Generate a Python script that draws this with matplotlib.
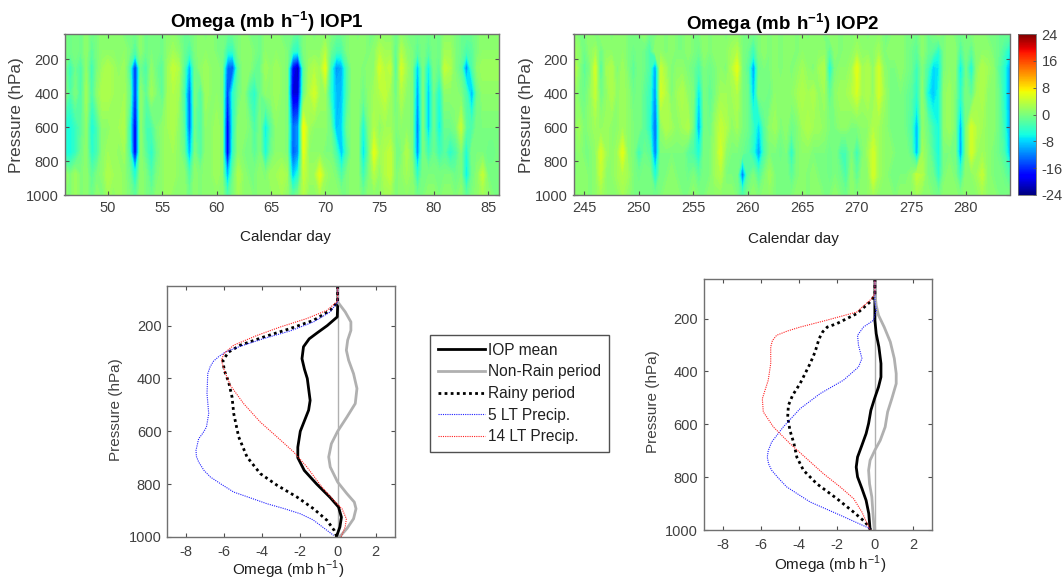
import matplotlib

matplotlib.use("Agg")
import matplotlib.pyplot as plt
import numpy as np

plt.rcParams["font.family"] = ["Liberation Sans", "DejaVu Sans"]
plt.rcParams["mathtext.fontset"] = "custom"
plt.rcParams["mathtext.rm"] = "Liberation Sans"
plt.rcParams["mathtext.bf"] = "Liberation Sans:bold"
plt.rcParams["axes.unicode_minus"] = False

# pressure rows of the two heatmaps, one value every half day
levels = [50, 150, 250, 400, 600, 750, 880, 1000]
days1 = [46 + 0.5 * i for i in range(81)]
days2 = [244 + 0.5 * i for i in range(81)]

iop1p50 = [0,-1,0,-1,1,-1,0,1,0,1, 1,0,0,-1,1,-1,0,0,-1,1, 1,0,-1,-1,0,1,0,1,0,0, -1,-1,0,1,0,0,-1,1,0,1,
           0,0,-1,-2,0,1,0,1,1,0, -1,-1,0,1,0,1,0,0,1,1, 1,-1,1,0,0,-1,0,-1,0,-1, 1,1,0,-1,-1,-1,0,1,1,1, 1]
iop1p150 = [0,-1,0,-1,1,-2,0,1,1,1, 1,1,0,-3,1,-1,0,0,-1,1, 2,1,-1,-3,0,1,1,1,0,0, -4,-4,0,1,1,0,-1,1,1,1,
            1,0,-4,-5,0,1,1,1,3,-1, -3,-3,0,1,1,1,0,1,3,2, 2,-2,3,1,0,-2,0,-2,0,-1, 2,2,0,-1,-3,-2,0,1,1,1, 1]
iop1p250 = [0,-4,-1,-3,1,-4,0,2,3,2, 1,2,-3,-17,-1,-3,1,-1,-2,2, 4,3,-2,-10,-1,1,2,1,1,0, -13,-14,-2,1,1,-1,-1,2,1,2,
            1,0,-18,-22,-2,2,3,2,6,-4, -11,-10,-3,1,1,0,1,1,5,3, 4,-3,5,2,0,-9,0,-7,0,-2, 4,3,0,-2,-12,-3,1,2,2,2, 2]
iop1p400 = [1,-3,0,-3,2,-3,1,3,3,2, 2,2,-1,-17,1,-2,2,0,-2,2, 3,2,-3,-14,0,-3,2,1,1,0, -16,-5,-1,1,-3,-5,-1,1,1,2,
            1,0,-20,-20,-1,3,5,2,2,-5, -9,-9,-3,1,1,-1,1,2,3,4, 2,-1,3,1,0,-11,0,-9,-1,-6, 1,1,1,0,-3,-10,-1,1,1,1, 1]
iop1p600 = [-5,-6,-4,-2,1,-6,-3,1,1,2, 2,3,-4,-20,1,-3,-3,0,1,2, 3,1,-2,-14,-1,-3,1,1,2,1, -20,-5,1,1,0,-3,0,-7,-2,1,
            1,0,-13,-11,7,2,1,1,1,-1, -9,-8,-1,1,1,-6,0,3,1,2, 2,0,1,1,0,-13,0,-9,-1,-7, -1,-1,0,4,-2,-3,0,0,0,0, 0]
iop1p750 = [-5,-6,-4,-1,1,-5,-3,1,2,2, 1,2,-3,-20,1,-2,-5,-1,1,2, 2,1,-1,-10,0,-3,1,1,2,1, -20,-4,1,0,0,-2,0,-6,-1,1,
            1,0,-14,-11,6,1,1,1,0,0, -3,-9,-3,1,1,-8,-1,6,2,3, 4,0,0,3,0,-12,0,-4,-1,-4, -2,-5,-3,0,-6,0,0,0,-1,-1, 0]
iop1p880 = [2,0,2,0,1,-2,0,1,3,2, 2,1,-1,-6,1,0,-3,0,1,2, 2,1,1,-3,1,0,1,1,2,1, -10,-1,3,1,0,0,1,0,2,2,
            3,2,-9,-5,4,2,2,6,2,1, 0,-3,0,1,1,-4,0,3,1,3, 4,0,1,2,1,-5,0,0,0,0, 0,0,-1,0,-7,-1,1,4,0,0, 0]
iop1p1000 = [1,0,2,0,1,-1,1,0,2,1, 2,1,0,-2,1,0,-1,1,1,2, 1,1,1,-1,1,0,1,1,1,1, -3,0,2,1,1,0,1,1,1,2,
             2,1,-2,0,3,1,1,2,1,1, 1,0,0,1,1,-1,1,1,1,2, 2,0,1,1,1,-1,0,1,1,0, 1,1,0,1,-2,0,1,2,1,0, 0]

iop2p50 = [1,0,0,1,0,1,1,0,1,1, 0,0,0,1,-1,0,1,0,1,0, 0,1,0,0,1,0,1,1,0,1, 1,0,0,-1,0,1,0,1,0,1,
           1,0,1,0,1,1,0,1,1,0, 1,0,1,1,0,1,1,0,0,1, 1,0,0,-1,1,-1,0,1,0,1, 0,-1,0,0,1,1,0,0,-1,-1, -1]
iop2p150 = [2,1,-1,1,2,-1,1,1,1,1, 0,-1,0,-1,-3,1,1,0,1,0, 0,1,0,-1,1,0,1,1,1,2, 3,0,-1,-4,0,1,0,1,0,1,
            1,0,1,1,1,1,1,-2,1,0, 1,1,2,1,1,1,2,0,1,1, 1,0,-1,-2,1,-1,-2,-5,0,1, 1,-3,0,-2,1,1,1,0,-1,-3, -6]
iop2p250 = [4,1,-2,0,5,-3,2,3,0,2, 0,-2,0,-1,-3,-11,4,2,0,1, 1,0,-1,-3,0,-1,0,1,0,3, 6,0,-2,-11,-1,0,0,1,0,1,
            0,1,2,1,0,2,3,-6,0,1, 1,2,6,2,3,1,5,1,0,0, 1,0,-1,-4,0,-3,-8,-7,0,1, 1,-7,-1,-6,1,3,2,1,-2,-5, -10]
iop2p400 = [2,0,-1,1,4,-1,1,3,1,2, 1,-1,0,-2,-4,-12,5,3,0,2, 3,1,0,-8,0,-2,0,2,2,2, 3,0,-1,-9,0,0,-1,1,1,1,
            1,2,3,2,3,1,2,-2,1,2, 2,3,5,2,3,1,5,2,0,0, 0,-1,-2,-5,1,-6,-9,-6,1,2, 0,-5,0,-2,2,3,1,1,-1,-5, -10]
iop2p600 = [1,2,0,1,2,1,2,1,1,2, 1,0,0,-2,-5,-14,1,3,2,1, 2,3,-1,-11,0,-1,2,4,3,1, 2,0,-1,-4,-8,-2,1,2,0,1,
            -1,0,2,3,2,2,1,0,0,1, 1,0,0,1,1,3,2,1,0,0, 0,-1,-3,-10,1,-1,-4,-6,1,2, 0,-10,0,5,3,2,1,1,-1,-4, -10]
iop2p750 = [0,1,0,0,1,5,2,1,2,6, 1,0,-4,-1,-2,-13,0,0,0,0, 0,-2,-3,-6,0,0,2,5,1,0, 0,-1,-2,-5,-11,-3,0,0,-1,0,
            -5,0,1,1,0,0,0,-1,0,-3, -3,0,-4,0,2,5,2,1,1,0, 0,0,-2,-10,2,0,-3,-6,0,0, 0,-11,0,5,2,2,1,0,-1,-3, -9]
iop2p880 = [0,1,1,0,1,4,1,1,2,3, 2,0,-1,0,0,-6,0,0,1,0, 0,-1,0,-2,0,0,2,3,0,0, 0,-13,-2,0,-3,0,2,0,0,0,
            -2,0,1,0,1,0,0,-1,0,-1, -3,1,-2,1,1,5,2,1,0,0, 0,0,1,4,3,0,-1,-5,0,1, 0,-4,1,1,2,4,1,0,0,-1, -3]
iop2p1000 = [1,1,1,0,1,2,1,1,1,2, 1,0,0,0,0,-1,0,1,1,1, 0,0,1,0,0,1,1,1,1,1, 0,-3,0,1,0,1,1,0,0,0,
             0,1,1,0,1,1,0,0,1,0, -1,1,0,1,1,2,1,1,1,0, 1,1,1,2,1,1,0,-1,1,1, 1,0,1,1,1,2,1,1,0,0, 0]

# IOP1 profiles (omega, pressure)
mean1X = [0, 0, -0.02, -0.55, -1.09, -1.5, -1.8, -1.88, -1.75, -1.6, -1.45, -1.53, -1.75, -1.97, -2.1, -2.1, -1.76, -1.1, -0.4, 0.05, 0.2, 0.12, -0.07]
mean1P = [50, 130, 167, 200, 228, 250, 280, 325, 365, 400, 483, 520, 560, 600, 660, 700, 748, 800, 850, 887, 925, 962, 1000]
dry1X = [0, 0, 0.4, 0.7, 0.7, 0.53, 0.46, 0.58, 0.84, 1.02, 0.93, 0.49, 0, -0.33, -0.47, -0.39, 0, 0.49, 0.88, 0.97, 0.84, 0.49, 0.1]
dry1P = [50, 110, 148, 186, 218, 255, 293, 331, 382, 438, 495, 546, 600, 647, 697, 735, 792, 836, 868, 893, 931, 968, 1000]
rain1X = [0, 0, -0.39, -1.27, -2.5, -3.9, -5.13, -5.75, -6.05, -5.98, -5.75, -5.57, -5.48, -5.22, -4.78, -4.08, -3.2, -2.14, -1.27, -0.56, -0.18, -0.04]
rain1P = [50, 110, 142, 180, 211, 243, 274, 300, 331, 369, 413, 470, 533, 621, 697, 760, 804, 849, 893, 937, 975, 1000]
morning1X = [0, 0, -0.39, -1.27, -2.5, -3.9, -5.13, -5.92, -6.25, -6.54, -6.72, -6.85, -6.89, -6.8, -6.92, -7.1, -7.33, -7.47, -7.45, -7.33, -7.05, -6.71, -6.1, -5.48, -4.6, -3.73, -2.8, -1.97, -1.3, -0.91, -0.21]
morning1P = [50, 110, 148, 186, 220, 249, 278, 300, 316, 334, 355, 382, 457, 533, 584, 606, 628, 672, 695, 716, 748, 773, 802, 830, 852, 874, 893, 912, 935, 956, 994]
noon1X = [0, 0, -0.56, -1.62, -3.02, -4.25, -5.48, -6.0, -6.13, -5.98, -5.66, -4.96, -4.08, -3.2, -2.32, -1.62, -0.83, -0.21, 0.23, 0.46, 0.4, 0.18]
noon1P = [50, 107, 142, 173, 205, 237, 274, 306, 331, 369, 426, 495, 565, 621, 678, 735, 811, 861, 893, 931, 962, 1000]

# IOP2 profiles
mean2X = [0, 0, 0, 0.07, 0.21, 0.32, 0.32, 0.19, -0.02, -0.21, -0.33, -0.46, -0.68, -0.91, -0.98, -0.91, -0.68, -0.46, -0.32, -0.25]
mean2P = [50, 105, 206, 257, 307, 370, 421, 459, 503, 547, 597, 635, 679, 724, 762, 799, 843, 888, 938, 1000]
dry2X = [0, 0, 0.07, 0.19, 0.49, 0.81, 1.02, 1.12, 1.12, 0.89, 0.67, 0.54, 0.28, 0, -0.25, -0.33, -0.28, -0.16, -0.1, -0.03]
dry2P = [50, 105, 150, 187, 232, 288, 351, 408, 446, 503, 553, 610, 661, 698, 736, 774, 825, 875, 938, 1000]
rain2X = [0, 0, -0.16, -0.95, -2.0, -2.5, -2.74, -2.93, -3.14, -3.4, -3.93, -4.32, -4.54, -4.58, -4.46, -4.25, -4.1, -3.75, -3.05, -2.0, -1.12, -0.51, -0.21]
rain2P = [50, 105, 131, 181, 219, 232, 250, 276, 326, 370, 446, 490, 528, 572, 623, 673, 724, 774, 825, 881, 932, 970, 1000]
morning2X = [0, 0, 0.07, -0.07, -0.6, -0.91, -0.86, -0.68, -0.86, -1.65, -2.88, -3.93, -4.81, -5.42, -5.6, -5.65, -5.58, -5.42, -5.05, -4.63, -3.4, -1.82, -0.25]
morning2P = [50, 131, 168, 206, 232, 263, 301, 351, 383, 433, 484, 541, 610, 667, 700, 724, 750, 774, 805, 837, 894, 944, 995]
noon2X = [0, 0, -0.16, -0.95, -2.53, -3.93, -4.6, -5.16, -5.38, -5.47, -5.47, -5.6, -5.91, -5.86, -5.33, -4.46, -3.58, -2.7, -1.82, -1.12, -0.68, -0.25]
noon2P = [50, 105, 124, 175, 206, 232, 247, 263, 283, 307, 370, 433, 503, 553, 610, 673, 730, 787, 837, 881, 932, 1000]

cLevels = [-24, -16, -8, 0, 8, 16, 24]
textColor = "#404040"
edgeColor = "#707070"

FIG_W, FIG_H = 1062, 581


def addAxes(fig, left, top, right, bottom):
    return fig.add_axes([left / FIG_W, 1 - bottom / FIG_H, (right - left) / FIG_W, (bottom - top) / FIG_H])


def styleAxes(ax, xpad=4):
    for spine in ax.spines.values():
        spine.set_color(edgeColor)
        spine.set_linewidth(1.0)
    ax.tick_params(direction="in", length=3, width=0.8, color="#505050", top=True, right=True, labelsize=10.5, labelcolor=textColor, pad=4)
    ax.tick_params(axis="x", pad=xpad)


def heatmap(fig, rect, days, rows, xticks):
    ax = addAxes(fig, *rect)
    grid = np.array(rows)
    ax.contourf(days, levels, grid, levels=np.linspace(-24, 24, 97), cmap="jet", extend="both")
    ax.set_xlim(days[0], days[-1])
    ax.set_ylim(1000, 50)
    ax.set_xticks(xticks)
    ax.set_yticks([200, 400, 600, 800, 1000])
    styleAxes(ax)
    return ax


def profiles(fig, rect, curves):
    ax = addAxes(fig, *rect)
    ax.axvline(0, color="#b0b0b0", lw=1.0)
    morningX, morningP, noonX, noonP, dryX, dryP, rainX, rainP, meanX, meanP = curves
    lines = []
    lines += ax.plot(meanX, meanP, color="black", lw=2.0, label="IOP mean")
    lines += ax.plot(dryX, dryP, color="#b0b0b0", lw=2.0, label="Non-Rain period")
    lines += ax.plot(rainX, rainP, color="black", lw=2.0, ls=(0, (1, 1.2)), label="Rainy period")
    lines += ax.plot(morningX, morningP, color="#2020ff", lw=0.8, ls=(0, (1, 1)), label="5 LT Precip.")
    lines += ax.plot(noonX, noonP, color="#ff2020", lw=0.8, ls=(0, (1, 1)), label="14 LT Precip.")
    ax.set_xlim(-9, 3)
    ax.set_ylim(1000, 50)
    ax.set_xticks([-8, -6, -4, -2, 0, 2])
    ax.set_yticks([200, 400, 600, 800, 1000])
    styleAxes(ax, xpad=5.5)
    return lines


def putText(fig, x, y, text, **kwargs):
    fig.text(x / FIG_W, 1 - y / FIG_H, text, ha="center", va="center", color=kwargs.pop("color", "#202020"), **kwargs)


fig = plt.figure(figsize=(FIG_W / 100, FIG_H / 100), dpi=100)

rows1 = [iop1p50, iop1p150, iop1p250, iop1p400, iop1p600, iop1p750, iop1p880, iop1p1000]
rows2 = [iop2p50, iop2p150, iop2p250, iop2p400, iop2p600, iop2p750, iop2p880, iop2p1000]
heatmap(fig, (64.5, 34, 499, 195), days1, rows1, [50, 55, 60, 65, 70, 75, 80, 85])
heatmap(fig, (573.5, 34, 1009.5, 195), days2, rows2, [245, 250, 255, 260, 265, 270, 275, 280])

cax = addAxes(fig, 1018, 34, 1036, 195)
sm = plt.cm.ScalarMappable(norm=plt.Normalize(-24, 24), cmap="jet")
cbar = fig.colorbar(sm, cax=cax, ticks=cLevels)
cbar.outline.set_edgecolor(edgeColor)
cbar.outline.set_linewidth(0.6)
cbar.ax.tick_params(direction="in", length=2, width=0.6, color="#505050", labelsize=10.5, labelcolor=textColor, pad=4)

lines = profiles(fig, (167, 286, 394.5, 537), (morning1X, morning1P, noon1X, noon1P, dry1X, dry1P, rain1X, rain1P, mean1X, mean1P))
profiles(fig, (703.5, 279, 932, 530), (morning2X, morning2P, noon2X, noon2P, dry2X, dry2P, rain2X, rain2P, mean2X, mean2P))

# titles and axis labels sit off centre in the original
putText(fig, 267, 22, r"$\mathbf{Omega\ (mb\ h^{-1})\ IOP1}$", fontsize=13.5, color="black")
putText(fig, 783, 24, r"$\mathbf{Omega\ (mb\ h^{-1})\ IOP2}$", fontsize=13.5, color="black")
putText(fig, 285, 237, "Calendar day", fontsize=11)
putText(fig, 793, 239, "Calendar day", fontsize=11)
putText(fig, 17, 115, "Pressure (hPa)", fontsize=12.3, rotation=90, color=textColor)
putText(fig, 527, 115, "Pressure (hPa)", fontsize=12.3, rotation=90, color=textColor)
putText(fig, 116, 410, "Pressure (hPa)", fontsize=11, rotation=90, color=textColor)
putText(fig, 653, 402, "Pressure (hPa)", fontsize=11, rotation=90, color=textColor)
putText(fig, 288, 570, r"Omega (mb h$^{-1}$)", fontsize=11)
putText(fig, 830, 565, r"Omega (mb h$^{-1}$)", fontsize=11)

legend = fig.legend(
    handles=lines,
    loc="center",
    bbox_to_anchor=(519.5 / FIG_W, 1 - 393.5 / FIG_H),
    fontsize=11.2,
    frameon=True,
    fancybox=False,
    edgecolor="#505050",
    framealpha=1,
    handlelength=3.0,
    handletextpad=0.2,
    labelspacing=0.42,
    borderpad=0.5,
)
legend.get_frame().set_linewidth(1.0)
for text in legend.get_texts():
    text.set_color("#202020")

fig.savefig("out.png", dpi=100)
